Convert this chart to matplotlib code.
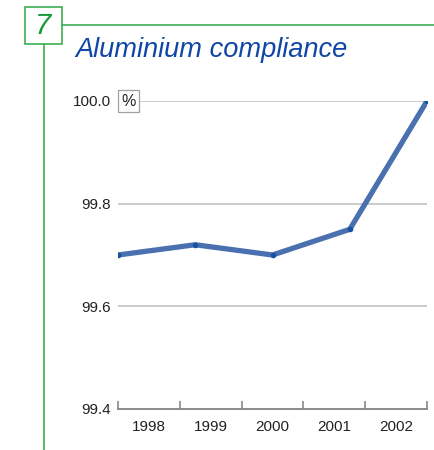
import matplotlib
matplotlib.use("Agg")
import matplotlib.pyplot as plt
from matplotlib.patches import Rectangle
from matplotlib.lines import Line2D

# data
years = ["1998", "1999", "2000", "2001", "2002"]
compliance = [99.70, 99.72, 99.70, 99.75, 100.00]
y_ticks = [99.4, 99.6, 99.8, 100.0]

W, H = 434, 450
plt.rcParams['font.family'] = ['Liberation Sans', 'DejaVu Sans']

fig = plt.figure(figsize=(W / 100, H / 100), dpi=100)


def fx(px):
    return px / W


def fy(py):
    return 1 - py / H


green = '#3cb054'
# section number box and frame lines
fig.add_artist(Rectangle((fx(25), fy(44)), fx(37), 37 / H, transform=fig.transFigure,
                         fill=False, edgecolor=green, linewidth=1.2))
fig.text(fx(43.5), fy(26), "7", color='#169a3a', fontsize=21, style='italic',
         ha='center', va='center')
fig.add_artist(Line2D([fx(62), 1], [fy(25), fy(25)], transform=fig.transFigure,
                      color=green, linewidth=1.2))
fig.add_artist(Line2D([fx(44), fx(44)], [fy(44), 0], transform=fig.transFigure,
                      color=green, linewidth=1.2))
fig.text(fx(75), fy(50), "Aluminium compliance", color='#0f46a8', fontsize=19.6,
         style='italic', ha='left', va='center')

ax = fig.add_axes([fx(118), fy(409), fx(427) - fx(118), 308 / H])
x = list(range(len(years)))
ax.plot(x, compliance, color='#4a70b0', linewidth=3.8, solid_capstyle='round',
        solid_joinstyle='round', zorder=3)
ax.plot(x, compliance, linestyle='none', marker='o', markersize=3,
        color='#1553a0', zorder=4)

ax.set_xlim(0, len(years) - 1)
ax.set_ylim(99.4, 100.0)
for v in y_ticks[1:]:
    x0 = 0.068 if v == 100.0 else 0
    ax.axhline(v, xmin=x0, xmax=1, color='#bdbdbd', linewidth=1.1, zorder=1)

for s in ['top', 'right', 'left']:
    ax.spines[s].set_visible(False)
ax.spines['bottom'].set_color('#8a8a8a')
ax.spines['bottom'].set_linewidth(1.4)

band = (len(years) - 1) / len(years)
ax.set_xticks([band * (i + 0.5) for i in range(len(years))])
ax.set_xticklabels(years, fontsize=11, color='#222222')
ax.set_xticks([band * i for i in range(len(years) + 1)], minor=True)
ax.tick_params(axis='x', which='major', length=0, pad=8)
ax.tick_params(axis='x', which='minor', direction='in', length=6, width=1.2,
               color='#8a8a8a')

ax.set_yticks(y_ticks)
ax.set_yticklabels([f"{v:.1f}" for v in y_ticks], fontsize=11, color='#222222')
ax.tick_params(axis='y', length=0, pad=5)

ax.text(0.033, 100.0, "%", transform=ax.get_yaxis_transform(), fontsize=11.5,
        color='#222222', ha='center', va='center',
        bbox=dict(boxstyle='square,pad=0.2', facecolor='white', edgecolor='#a0a0a0',
                  linewidth=0.9))

fig.savefig("out.png", dpi=100)
